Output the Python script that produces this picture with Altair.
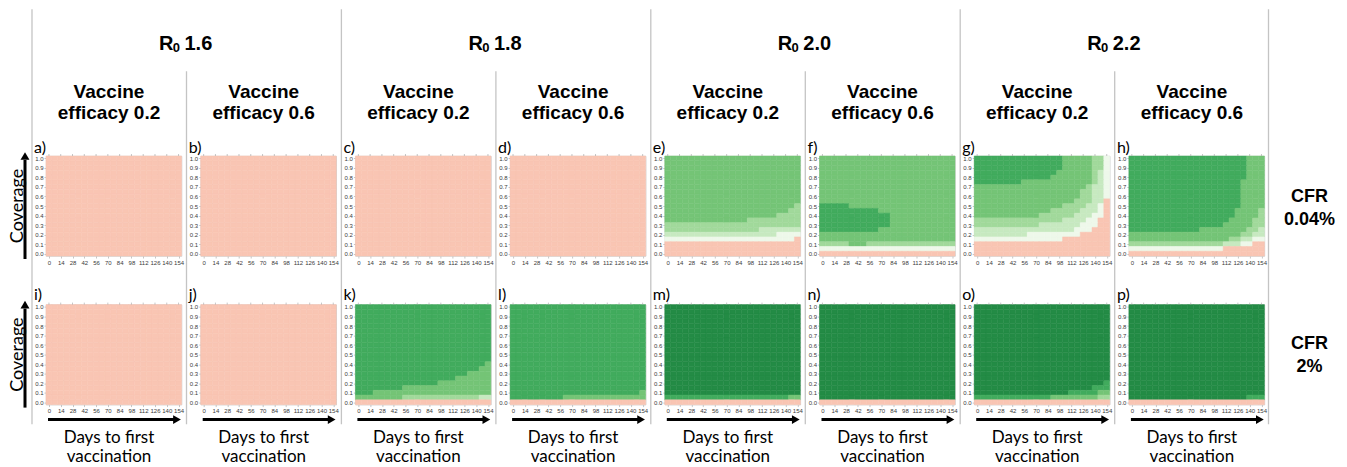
import altair as alt
import pandas as pd

# ---------------- data ----------------
DAYS = [0, 7, 14, 21, 28, 35, 42, 49, 56, 63, 70, 77, 84, 91, 98, 105, 112, 119, 126, 133, 140, 147, 154]
COVERAGE = [0.0, 0.05, 0.1, 0.15, 0.2, 0.25, 0.3, 0.35, 0.4, 0.45, 0.5,
            0.55, 0.6, 0.65, 0.7, 0.75, 0.8, 0.85, 0.9, 0.95, 1.0]
DAY_TICKS = [0, 14, 28, 42, 56, 70, 84, 98, 112, 126, 140, 154]
COV_TICKS = [0.0, 0.1, 0.2, 0.3, 0.4, 0.5, 0.6, 0.7, 0.8, 0.9, 1.0]

LEVELS = ["0", "1", "2", "3", "4", "5", "6"]
LEVEL_COLORS = ["#F9C5B3", "#EEF8EA", "#C7E9C0", "#A1D99B", "#74C476", "#41AB5D", "#238B45"]

R0_VALUES = ["1.6", "1.8", "2.0", "2.2"]
EFFICACY = ["0.2", "0.6"]
CFR_TOP = ["CFR", "0.04%"]
CFR_BOTTOM = ["CFR", "2%"]
LETTERS_TOP = ["a)", "b)", "c)", "d)", "e)", "f)", "g)", "h)"]
LETTERS_BOTTOM = ["i)", "j)", "k)", "l)", "m)", "n)", "o)", "p)"]

# uniform rows (23 cells, one per day)
S = "00000000000000000000000"
W1 = "11111111111111111111111"
G3 = "33333333333333333333333"
G4 = "44444444444444444444444"
G5 = "55555555555555555555555"
G6 = "66666666666666666666666"

# each panel: 21 rows, coverage 1.0 (top) down to 0.0 (bottom)
panel_a = [S] * 21
panel_b = [S] * 21
panel_c = [S] * 21
panel_d = [S] * 21
panel_i = [S] * 21
panel_j = [S] * 21

panel_e = [G4, G4, G4, G4, G4, G4, G4, G4, G4, G4,
           "44444444444444444444443",
           "44444444444444444444433",
           "44444444444444444443333",
           "44444444444444333333333",
           G3,
           "33333333333333332222222",
           "22222222222222222221111",
           "11111111111111111111110",
           S, S, S]

panel_f = [G4, G4, G4, G4, G4, G4, G4, G4, G4, G4,
           "55555444444444444444444",
           "55555555554444444444444",
           "55555555555544444444444",
           "55555555555544444444444",
           "55555555555544444444444",
           "55555555554444444444444",
           G4, G4,
           "33333444333333333333333",
           W1,
           S]

panel_g = ["55555555555555544444331",
           "55555555555555544444331",
           "55555555555555544444331",
           "55555555555555444444321",
           "55555555555554444444321",
           "55555555444444444444321",
           "44444444444444444443221",
           "44444444444444444433221",
           "44444444444444444433221",
           "44444444444444444333220",
           "44444444444444433332210",
           "44444444444443333322210",
           "44444444444333333222110",
           "33333333333333322221100",
           "33333333333222222211100",
           "22222222222222222111000",
           "22222222211111111100000",
           "11111111111111100000000",
           S, S, S]

panel_h = ["55555555555555555555444",
           "55555555555555555555444",
           "55555555555555555555444",
           "55555555555555555555444",
           "55555555555555555555444",
           "55555555555555555554444",
           "55555555555555555554444",
           "55555555555555555554444",
           "55555555555555555554444",
           "55555555555555555554444",
           "55555555555555555554444",
           "55555555555555555544443",
           "55555555555555555544443",
           "55555555555555555444433",
           "55555555555555554444433",
           "55555555555544444444332",
           "44444444444444444443322",
           "44444444444444444332211",
           "33333333333333332221100",
           "11111111111111110000000",
           S]

panel_k = [G5, G5, G5, G5, G5, G5, G5, G5, G5, G5, G5, G5,
           "55555555555555555555554",
           "55555555555555555555544",
           "55555555555555555554444",
           "55555555555555555444444",
           "55555555555555444444444",
           "55555555444444444444444",
           "55544444444444444444444",
           "44444444333333333333322",
           S]

panel_l = [G5, G5, G5, G5, G5, G5, G5, G5, G5, G5, G5, G5, G5, G5, G5, G5, G5, G5,
           "55555555555555555555554",
           "55555555544444444444444",
           S]

panel_m = [G6, G6, G6, G6, G6, G6, G6, G6, G6, G6, G6, G6, G6, G6, G6, G6, G6, G6, G6,
           "55555555555555555555544",
           S]

panel_n = [G6, G6, G6, G6, G6, G6, G6, G6, G6, G6, G6, G6, G6, G6, G6, G6, G6, G6, G6, G6,
           S]

panel_o = [G6, G6, G6, G6, G6, G6, G6, G6, G6, G6, G6, G6, G6, G6, G6, G6,
           "66666666666666666666665",
           "66666666666666666666555",
           "66666666666666665555544",
           "55555555555554444444433",
           S]

panel_p = [G6, G6, G6, G6, G6, G6, G6, G6, G6, G6, G6, G6, G6, G6, G6, G6, G6, G6, G6,
           "66666666666666666666555",
           S]

TOP_PANELS = [panel_a, panel_b, panel_c, panel_d, panel_e, panel_f, panel_g, panel_h]
BOTTOM_PANELS = [panel_i, panel_j, panel_k, panel_l, panel_m, panel_n, panel_o, panel_p]

for name, pr in zip("abcdefghijklmnop", TOP_PANELS + BOTTOM_PANELS):
    assert len(pr) == 21, (name, len(pr))
    for k, r in enumerate(pr):
        assert len(r) == 23, (name, k, len(r))

# ---------------- layout constants (pixels) ----------------
PW, PH = 135.5, 100
HSPACE = 18.7
VSPACE = 48.6
SEP_COLOR = "#C4C4C4"
HEAD_FONT = "Liberation Sans"
BODY_FONT = "Lato"

DUMMY = pd.DataFrame({"k": [0]})
TICKS_DF = pd.DataFrame({"day": DAY_TICKS})

color_scale = alt.Scale(domain=LEVELS, range=LEVEL_COLORS)
x_scale = alt.Scale(domain=[-3.5, 157.5], nice=False, zero=False)


def x_axis():
    return alt.Axis(values=DAY_TICKS, title=None, labelAngle=0,
                    labelOverlap=False, labelFlush=False)


def grid_frame(rows):
    recs = []
    n = len(rows)
    for i, row in enumerate(rows):
        cov = COVERAGE[n - 1 - i]
        for j, ch in enumerate(row):
            d = DAYS[j]
            recs.append({"d0": d - 3.5, "d1": d + 3.5,
                         "c0": cov - 0.025, "c1": cov + 0.025, "level": ch})
    return pd.DataFrame(recs)


def heat(rows):
    return alt.Chart(grid_frame(rows)).mark_rect(strokeWidth=0.5).encode(
        x=alt.X("d0:Q", scale=x_scale, axis=x_axis()),
        x2="d1:Q",
        y=alt.Y("c0:Q",
                scale=alt.Scale(domain=[-0.025, 1.025], nice=False, zero=False),
                axis=alt.Axis(values=COV_TICKS, title=None, format=".1f",
                              labelOverlap=False, labelFlush=False)),
        y2="c1:Q",
        color=alt.Color("level:N", scale=color_scale, legend=None),
        stroke=alt.Stroke("level:N", scale=color_scale, legend=None),
    )


def top_ticks():
    return alt.Chart(TICKS_DF).mark_rule(color="#A0A0A0", strokeWidth=0.6).encode(
        x=alt.X("day:Q", scale=x_scale, axis=x_axis()),
        y=alt.value(0), y2=alt.value(-2))


def text(t, x, y, size, bold=False, font=BODY_FONT, align="center", angle=0,
         baseline="alphabetic"):
    kw = dict(text=t, font=font, fontSize=size, align=align, baseline=baseline,
              color="black", fontWeight="bold" if bold else "normal")
    if angle:
        kw["angle"] = angle
    return alt.Chart(DUMMY).mark_text(**kw).encode(x=alt.value(x), y=alt.value(y))


def vline(x, y0, y1, color=SEP_COLOR, width=1.3):
    return alt.Chart(DUMMY).mark_rule(color=color, strokeWidth=width).encode(
        x=alt.value(x), y=alt.value(y0), y2=alt.value(y1))


def hline(y, x0, x1, color="black", width=3):
    return alt.Chart(DUMMY).mark_rule(color=color, strokeWidth=width).encode(
        y=alt.value(y), x=alt.value(x0), x2=alt.value(x1))


def head(shape, x, y, size=90):
    return alt.Chart(DUMMY).mark_point(shape=shape, filled=True, size=size,
                                       color="black", opacity=1, strokeWidth=0).encode(
        x=alt.value(x), y=alt.value(y))


def panel(row, col, rows):
    layers = [heat(rows), top_ticks()]
    letters = LETTERS_TOP if row == 0 else LETTERS_BOTTOM
    layers.append(text(letters[col], -12, -3 if row == 0 else -5, 16, align="left"))
    # separators (drawn from the top-row panels over the full height)
    if row == 0:
        if col % 2 == 0:
            layers.append(vline(-14, -146.7, 268.3))
        else:
            layers.append(vline(-14.2, -84.7, 268.3))
        if col == 7:
            layers.append(vline(139.6, -146.7, 268.3))
        # efficacy header
        layers.append(text("Vaccine", 63, -58.4, 19, bold=True, font=HEAD_FONT))
        layers.append(text("efficacy " + EFFICACY[col % 2], 63, -37.5, 19, bold=True,
                           font=HEAD_FONT))
        # R0 header, centred over the pair
        if col % 2 == 0:
            r0 = R0_VALUES[col // 2]
            cx = 140
            layers.append(text("R", cx - 27, -106, 20, bold=True, font=HEAD_FONT,
                               align="left"))
            layers.append(text("0", cx - 13.2, -103.7, 13, bold=True, font=HEAD_FONT,
                               align="left"))
            layers.append(text(r0, cx - 1.5, -106, 20, bold=True, font=HEAD_FONT,
                               align="left"))
    # coverage arrow + label
    if col == 0:
        layers.append(alt.Chart(DUMMY).mark_rule(color="black", strokeWidth=3).encode(
            x=alt.value(-21), y=alt.value(103), y2=alt.value(4)))
        layers.append(head("triangle-up", -21, 0, 80))
        layers.append(text("Coverage", -28, 50, 18, angle=270, baseline="middle"))
    # CFR labels
    if col == 7:
        lab = CFR_TOP if row == 0 else CFR_BOTTOM
        y0 = 46 if row == 0 else 44
        layers.append(text(lab[0], 180.6, y0, 18, bold=True, font=HEAD_FONT))
        layers.append(text(lab[1], 180.6, y0 + 23, 18, bold=True, font=HEAD_FONT))
    # days arrow + label
    if row == 1:
        layers.append(hline(115, 2, 130))
        layers.append(head("triangle-right", 131, 115, 80))
        layers.append(text("Days to first", 63, 138.4, 17))
        layers.append(text("vaccination", 63, 157.5, 17))
    return alt.layer(*layers).properties(width=PW, height=PH)


panels = [panel(0, c, TOP_PANELS[c]) for c in range(8)] + \
         [panel(1, c, BOTTOM_PANELS[c]) for c in range(8)]

chart = alt.concat(
    *panels, columns=8,
    spacing=alt.RowColnumber(row=VSPACE, column=HSPACE),
    bounds="flush",
).properties(
    padding=0, background="white"
).configure_view(
    stroke="#C8C8C8", strokeWidth=0.8
).configure_axis(
    labelFont=HEAD_FONT, labelFontSize=6, labelColor="#3A3A3A",
    tickColor="#A0A0A0", tickSize=2, tickWidth=0.6, labelPadding=1,
    domain=False, grid=False
)

chart.save("out.html", embed_options={"renderer": "svg", "actions": False})
